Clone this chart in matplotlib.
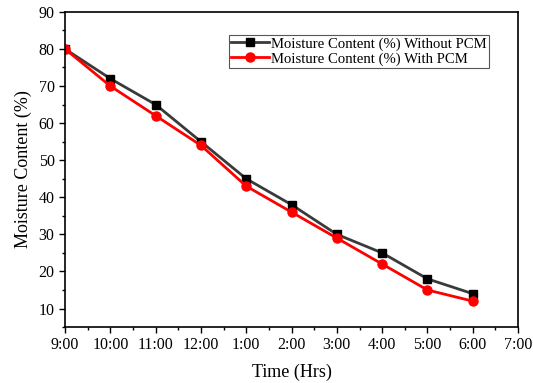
import numpy as np
import matplotlib.pyplot as plt
from matplotlib.ticker import MultipleLocator

# data
timeLabels = ['9:00', '10:00', '11:00', '12:00', '1:00', '2:00', '3:00', '4:00', '5:00', '6:00', '7:00']
withoutPCM = [80, 72, 65, 55, 45, 38, 30, 25, 18, 14]
withPCM = [80, 70, 62, 54, 43, 36, 29, 22, 15, 12]

plt.rcParams['font.family'] = 'Liberation Serif'

fig = plt.figure(figsize=(5.33, 3.83), dpi=100)
ax = fig.add_axes([0.122, 0.146, 0.850, 0.823])

x = np.arange(len(withoutPCM))
ax.plot(x, withoutPCM, color='#3a3a3a', lw=2, marker='s', ms=6, mfc='black', mec='black',
        label='Moisture Content (%) Without PCM')
ax.plot(x, withPCM, color='red', lw=2, marker='o', ms=6.5, mfc='red', mec='red',
        label='Moisture Content (%) With PCM')

ax.set_xlim(0, 10)
ax.set_ylim(5, 90)
ax.set_xticks(np.arange(len(timeLabels)))
ax.set_xticklabels(timeLabels)
ax.xaxis.set_minor_locator(MultipleLocator(0.5))
ax.yaxis.set_major_locator(MultipleLocator(10))
ax.yaxis.set_minor_locator(MultipleLocator(5))
ax.tick_params(which='major', direction='out', length=4, width=1, labelsize=11.5, top=False, right=False)
ax.tick_params(which='minor', direction='out', length=2.5, width=1, top=False, right=False)
for s in ax.spines.values():
    s.set_linewidth(1.2)

ax.set_xlabel('Time (Hrs)', fontsize=13, labelpad=7)
ax.set_ylabel('Moisture Content (%)', fontsize=13, labelpad=5)

leg = ax.legend(loc='upper right', bbox_to_anchor=(0.936, 0.927), fontsize=10.6, frameon=True,
                fancybox=False, edgecolor='#555555', framealpha=1, handlelength=2.6,
                borderpad=0.15, labelspacing=0.1, handletextpad=0.15, borderaxespad=0)
leg.get_frame().set_linewidth(0.8)

plt.savefig('out.png', dpi=100)
